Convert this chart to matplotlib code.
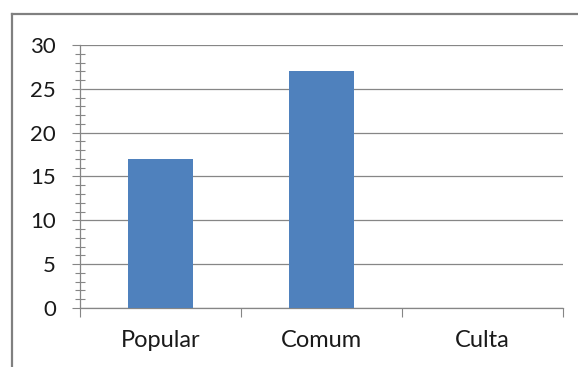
import matplotlib.pyplot as plt
from matplotlib.lines import Line2D
from matplotlib.ticker import MultipleLocator

# ----------------------------------------------------------
# Data
# ----------------------------------------------------------

categories = ["Popular", "Comum", "Culta"]
values = [17, 27, 0]

BAR_COLOR = "#4F81BD"
LINE_COLOR = "#868686"

# ----------------------------------------------------------
# Figure
# ----------------------------------------------------------

plt.rcParams["font.family"] = ["Lato", "DejaVu Sans"]

fig = plt.figure(figsize=(5.78, 3.67), dpi=100)
ax = fig.add_axes([0.1384, 0.1608, 0.8356, 0.7166])

x = list(range(len(categories)))
ax.bar(x, values, width=0.4, color=BAR_COLOR, zorder=3)

ax.set_xlim(-0.5, len(categories) - 0.5)
ax.set_ylim(0, 30)

# y axis: majors every 5, minors every 1
ax.yaxis.set_major_locator(MultipleLocator(5))
ax.yaxis.set_minor_locator(MultipleLocator(1))
ax.tick_params(axis="y", which="major", direction="out", length=5.8,
               width=0.8, color=LINE_COLOR, pad=11.5, labelsize=16,
               labelcolor="#1a1a1a")
ax.tick_params(axis="y", which="minor", direction="inout", length=7,
               width=0.8, color=LINE_COLOR)

# x axis: ticks sit on the category boundaries
ax.set_xticks([i - 0.5 for i in range(len(categories) + 1)])
ax.set_xticklabels([])
ax.set_xticks(x, minor=True)
ax.set_xticklabels(categories, minor=True, color="#1a1a1a")
ax.tick_params(axis="x", which="major", direction="out", length=6.5,
               width=0.8, color=LINE_COLOR)
ax.tick_params(axis="x", which="minor", length=0, pad=16, labelsize=17)

ax.grid(axis="y", which="major", color=LINE_COLOR, linewidth=0.9, zorder=0)

for side in ["top", "right"]:
    ax.spines[side].set_visible(False)
for side in ["left", "bottom"]:
    ax.spines[side].set_color(LINE_COLOR)
    ax.spines[side].set_linewidth(0.9)

# outer chart frame (left and top edges)
fig.add_artist(Line2D([0.020, 0.020], [0.0, 0.962], transform=fig.transFigure,
                      color="#808080", linewidth=1.6))
fig.add_artist(Line2D([0.020, 1.0], [0.962, 0.962], transform=fig.transFigure,
                      color="#808080", linewidth=1.6))

fig.savefig("out.png", dpi=100)
